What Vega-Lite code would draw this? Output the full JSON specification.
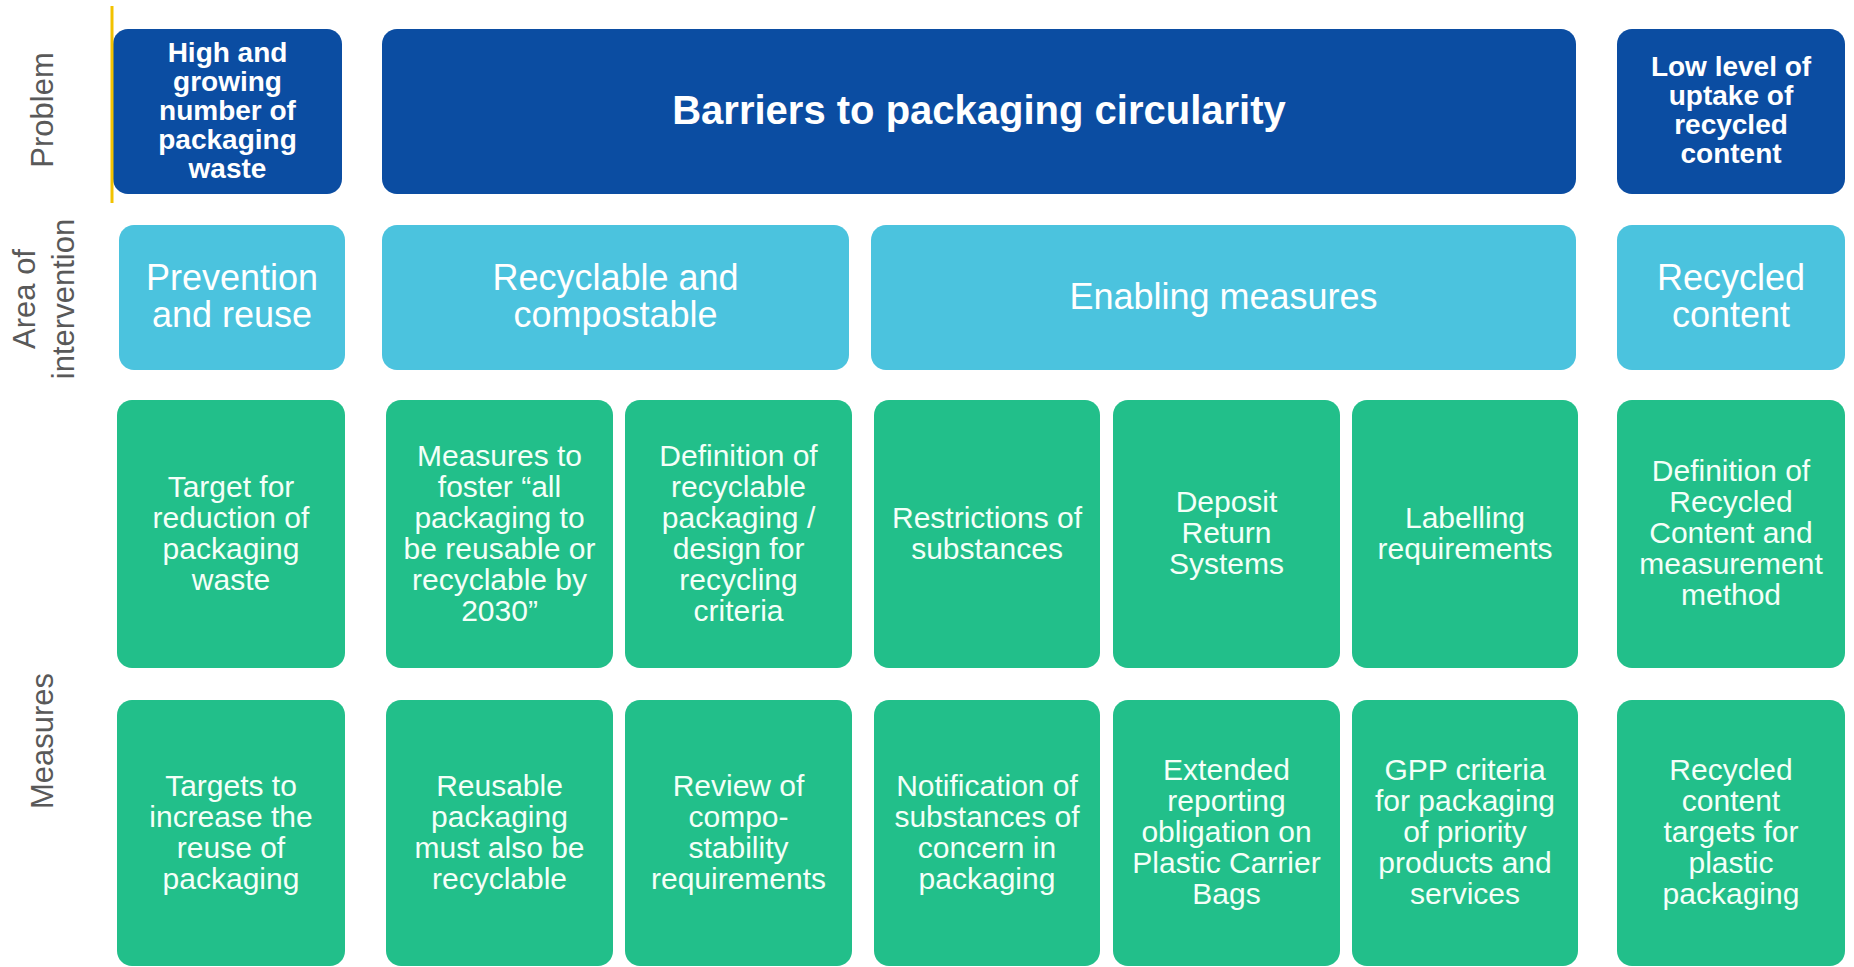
{
  "$schema": "https://vega.github.io/schema/vega-lite/v6.json",
  "width": 1854,
  "height": 967,
  "autosize": {"type": "fit", "contains": "padding"},
  "padding": 0,
  "background": "#ffffff",
  "config": {"view": {"stroke": null}, "font": "Liberation Sans"},
  "datasets": {
    "boxes": [
      {"id": 1, "kind": "problem", "label": "High and\ngrowing\nnumber of\npackaging\nwaste", "x0": 113, "x1": 342, "y0": 29, "y1": 194},
      {"id": 2, "kind": "title", "label": "Barriers to packaging circularity", "x0": 382, "x1": 1576, "y0": 29, "y1": 194},
      {"id": 3, "kind": "problem", "label": "Low level of\nuptake of\nrecycled\ncontent", "x0": 1617, "x1": 1845, "y0": 29, "y1": 194},
      {"id": 4, "kind": "area", "label": "Prevention\nand reuse", "x0": 119, "x1": 345, "y0": 225, "y1": 370},
      {"id": 5, "kind": "area", "label": "Recyclable and\ncompostable", "x0": 382, "x1": 849, "y0": 225, "y1": 370},
      {"id": 6, "kind": "area", "label": "Enabling measures", "x0": 871, "x1": 1576, "y0": 225, "y1": 370},
      {"id": 7, "kind": "area", "label": "Recycled\ncontent", "x0": 1617, "x1": 1845, "y0": 225, "y1": 370},
      {"id": 8, "kind": "measure", "label": "Target for\nreduction of\npackaging\nwaste", "x0": 117, "x1": 345, "y0": 400, "y1": 668},
      {"id": 9, "kind": "measure", "label": "Measures to\nfoster “all\npackaging to\nbe reusable or\nrecyclable by\n2030”", "x0": 386, "x1": 613, "y0": 400, "y1": 668},
      {"id": 10, "kind": "measure", "label": "Definition of\nrecyclable\npackaging /\ndesign for\nrecycling\ncriteria", "x0": 625, "x1": 852, "y0": 400, "y1": 668},
      {"id": 11, "kind": "measure", "label": "Restrictions of\nsubstances", "x0": 874, "x1": 1100, "y0": 400, "y1": 668},
      {"id": 12, "kind": "measure", "label": "Deposit\nReturn\nSystems", "x0": 1113, "x1": 1340, "y0": 400, "y1": 668},
      {"id": 13, "kind": "measure", "label": "Labelling\nrequirements", "x0": 1352, "x1": 1578, "y0": 400, "y1": 668},
      {"id": 14, "kind": "measure", "label": "Definition of\nRecycled\nContent and\nmeasurement\nmethod", "x0": 1617, "x1": 1845, "y0": 400, "y1": 668},
      {"id": 15, "kind": "measure", "label": "Targets to\nincrease the\nreuse of\npackaging", "x0": 117, "x1": 345, "y0": 700, "y1": 966},
      {"id": 16, "kind": "measure", "label": "Reusable\npackaging\nmust also be\nrecyclable", "x0": 386, "x1": 613, "y0": 700, "y1": 966},
      {"id": 17, "kind": "measure", "label": "Review of\ncompo-\nstability\nrequirements", "x0": 625, "x1": 852, "y0": 700, "y1": 966},
      {"id": 18, "kind": "measure", "label": "Notification of\nsubstances of\nconcern in\npackaging", "x0": 874, "x1": 1100, "y0": 700, "y1": 966},
      {"id": 19, "kind": "measure", "label": "Extended\nreporting\nobligation on\nPlastic Carrier\nBags", "x0": 1113, "x1": 1340, "y0": 700, "y1": 966},
      {"id": 20, "kind": "measure", "label": "GPP criteria\nfor packaging\nof priority\nproducts and\nservices", "x0": 1352, "x1": 1578, "y0": 700, "y1": 966},
      {"id": 21, "kind": "measure", "label": "Recycled\ncontent\ntargets for\nplastic\npackaging", "x0": 1617, "x1": 1845, "y0": 700, "y1": 966}
    ],
    "sides": [
      {"label": "Problem", "x": 44, "y": 110},
      {"label": "Area of\nintervention", "x": 26, "y": 299},
      {"label": "Measures", "x": 44, "y": 741}
    ],
    "divider": [
      {"x": 112, "y0": 6, "y1": 203}
    ]
  },
  "layer": [
    {
      "data": {"name": "boxes"},
      "mark": {"type": "rect", "cornerRadius": 15},
      "encoding": {
        "x": {"field": "x0", "type": "quantitative", "scale": {"domain": [0, 1854], "nice": false, "zero": false}, "axis": null},
        "x2": {"field": "x1"},
        "y": {"field": "y0", "type": "quantitative", "scale": {"domain": [0, 967], "nice": false, "zero": false, "reverse": true}, "axis": null},
        "y2": {"field": "y1"},
        "color": {"field": "kind", "type": "nominal", "scale": {"domain": ["problem", "title", "area", "measure"], "range": ["#0b4da2", "#0b4da2", "#4bc3de", "#22bf8a"]}, "legend": null}
      }
    },
    {
      "data": {"name": "divider"},
      "mark": {"type": "rule", "color": "#f2c200", "strokeWidth": 3},
      "encoding": {
        "x": {"field": "x", "type": "quantitative"},
        "y": {"field": "y0", "type": "quantitative"},
        "y2": {"field": "y1"}
      }
    },
    {
      "data": {"name": "boxes"},
      "transform": [
        {"filter": "datum.kind === 'problem' && split(datum.label, '\\n').length === 5"},
        {"fold": ["x0", "x1"], "as": ["kx", "vx"]},
        {"fold": ["y0", "y1"], "as": ["ky", "vy"]},
        {"aggregate": [{"op": "mean", "field": "vx", "as": "xc"}, {"op": "mean", "field": "vy", "as": "yc"}], "groupby": ["id", "label"]}
      ],
      "mark": {"type": "text", "font": "Liberation Sans", "fontWeight": "bold", "fontSize": 28, "lineHeight": 29, "dy": -58, "color": "#ffffff", "align": "center", "baseline": "middle", "lineBreak": "\n"},
      "encoding": {
        "x": {"field": "xc", "type": "quantitative"},
        "y": {"field": "yc", "type": "quantitative"},
        "text": {"field": "label"}
      }
    },
    {
      "data": {"name": "boxes"},
      "transform": [
        {"filter": "datum.kind === 'problem' && split(datum.label, '\\n').length === 4"},
        {"fold": ["x0", "x1"], "as": ["kx", "vx"]},
        {"fold": ["y0", "y1"], "as": ["ky", "vy"]},
        {"aggregate": [{"op": "mean", "field": "vx", "as": "xc"}, {"op": "mean", "field": "vy", "as": "yc"}], "groupby": ["id", "label"]}
      ],
      "mark": {"type": "text", "font": "Liberation Sans", "fontWeight": "bold", "fontSize": 28, "lineHeight": 29, "dy": -43.5, "color": "#ffffff", "align": "center", "baseline": "middle", "lineBreak": "\n"},
      "encoding": {
        "x": {"field": "xc", "type": "quantitative"},
        "y": {"field": "yc", "type": "quantitative"},
        "text": {"field": "label"}
      }
    },
    {
      "data": {"name": "boxes"},
      "transform": [
        {"filter": "datum.kind === 'title'"},
        {"fold": ["x0", "x1"], "as": ["kx", "vx"]},
        {"fold": ["y0", "y1"], "as": ["ky", "vy"]},
        {"aggregate": [{"op": "mean", "field": "vx", "as": "xc"}, {"op": "mean", "field": "vy", "as": "yc"}], "groupby": ["id", "label"]}
      ],
      "mark": {"type": "text", "font": "Liberation Sans", "fontWeight": "bold", "fontSize": 40, "color": "#ffffff", "align": "center", "baseline": "middle"},
      "encoding": {
        "x": {"field": "xc", "type": "quantitative"},
        "y": {"field": "yc", "type": "quantitative"},
        "text": {"field": "label"}
      }
    },
    {
      "data": {"name": "boxes"},
      "transform": [
        {"filter": "datum.kind === 'area' && split(datum.label, '\\n').length === 2"},
        {"fold": ["x0", "x1"], "as": ["kx", "vx"]},
        {"fold": ["y0", "y1"], "as": ["ky", "vy"]},
        {"aggregate": [{"op": "mean", "field": "vx", "as": "xc"}, {"op": "mean", "field": "vy", "as": "yc"}], "groupby": ["id", "label"]}
      ],
      "mark": {"type": "text", "font": "Liberation Sans", "fontSize": 36, "lineHeight": 37, "dy": -18.5, "color": "#ffffff", "align": "center", "baseline": "middle", "lineBreak": "\n"},
      "encoding": {
        "x": {"field": "xc", "type": "quantitative"},
        "y": {"field": "yc", "type": "quantitative"},
        "text": {"field": "label"}
      }
    },
    {
      "data": {"name": "boxes"},
      "transform": [
        {"filter": "datum.kind === 'area' && split(datum.label, '\\n').length === 1"},
        {"fold": ["x0", "x1"], "as": ["kx", "vx"]},
        {"fold": ["y0", "y1"], "as": ["ky", "vy"]},
        {"aggregate": [{"op": "mean", "field": "vx", "as": "xc"}, {"op": "mean", "field": "vy", "as": "yc"}], "groupby": ["id", "label"]}
      ],
      "mark": {"type": "text", "font": "Liberation Sans", "fontSize": 36, "color": "#ffffff", "align": "center", "baseline": "middle"},
      "encoding": {
        "x": {"field": "xc", "type": "quantitative"},
        "y": {"field": "yc", "type": "quantitative"},
        "text": {"field": "label"}
      }
    },
    {
      "data": {"name": "boxes"},
      "transform": [
        {"filter": "datum.kind === 'measure' && split(datum.label, '\\n').length === 2"},
        {"fold": ["x0", "x1"], "as": ["kx", "vx"]},
        {"fold": ["y0", "y1"], "as": ["ky", "vy"]},
        {"aggregate": [{"op": "mean", "field": "vx", "as": "xc"}, {"op": "mean", "field": "vy", "as": "yc"}], "groupby": ["id", "label"]}
      ],
      "mark": {"type": "text", "font": "Liberation Sans", "fontSize": 30, "lineHeight": 31, "dy": -15.5, "color": "#f4fff8", "align": "center", "baseline": "middle", "lineBreak": "\n"},
      "encoding": {
        "x": {"field": "xc", "type": "quantitative"},
        "y": {"field": "yc", "type": "quantitative"},
        "text": {"field": "label"}
      }
    },
    {
      "data": {"name": "boxes"},
      "transform": [
        {"filter": "datum.kind === 'measure' && split(datum.label, '\\n').length === 3"},
        {"fold": ["x0", "x1"], "as": ["kx", "vx"]},
        {"fold": ["y0", "y1"], "as": ["ky", "vy"]},
        {"aggregate": [{"op": "mean", "field": "vx", "as": "xc"}, {"op": "mean", "field": "vy", "as": "yc"}], "groupby": ["id", "label"]}
      ],
      "mark": {"type": "text", "font": "Liberation Sans", "fontSize": 30, "lineHeight": 31, "dy": -31, "color": "#f4fff8", "align": "center", "baseline": "middle", "lineBreak": "\n"},
      "encoding": {
        "x": {"field": "xc", "type": "quantitative"},
        "y": {"field": "yc", "type": "quantitative"},
        "text": {"field": "label"}
      }
    },
    {
      "data": {"name": "boxes"},
      "transform": [
        {"filter": "datum.kind === 'measure' && split(datum.label, '\\n').length === 4"},
        {"fold": ["x0", "x1"], "as": ["kx", "vx"]},
        {"fold": ["y0", "y1"], "as": ["ky", "vy"]},
        {"aggregate": [{"op": "mean", "field": "vx", "as": "xc"}, {"op": "mean", "field": "vy", "as": "yc"}], "groupby": ["id", "label"]}
      ],
      "mark": {"type": "text", "font": "Liberation Sans", "fontSize": 30, "lineHeight": 31, "dy": -46.5, "color": "#f4fff8", "align": "center", "baseline": "middle", "lineBreak": "\n"},
      "encoding": {
        "x": {"field": "xc", "type": "quantitative"},
        "y": {"field": "yc", "type": "quantitative"},
        "text": {"field": "label"}
      }
    },
    {
      "data": {"name": "boxes"},
      "transform": [
        {"filter": "datum.kind === 'measure' && split(datum.label, '\\n').length === 5"},
        {"fold": ["x0", "x1"], "as": ["kx", "vx"]},
        {"fold": ["y0", "y1"], "as": ["ky", "vy"]},
        {"aggregate": [{"op": "mean", "field": "vx", "as": "xc"}, {"op": "mean", "field": "vy", "as": "yc"}], "groupby": ["id", "label"]}
      ],
      "mark": {"type": "text", "font": "Liberation Sans", "fontSize": 30, "lineHeight": 31, "dy": -62, "color": "#f4fff8", "align": "center", "baseline": "middle", "lineBreak": "\n"},
      "encoding": {
        "x": {"field": "xc", "type": "quantitative"},
        "y": {"field": "yc", "type": "quantitative"},
        "text": {"field": "label"}
      }
    },
    {
      "data": {"name": "boxes"},
      "transform": [
        {"filter": "datum.kind === 'measure' && split(datum.label, '\\n').length === 6"},
        {"fold": ["x0", "x1"], "as": ["kx", "vx"]},
        {"fold": ["y0", "y1"], "as": ["ky", "vy"]},
        {"aggregate": [{"op": "mean", "field": "vx", "as": "xc"}, {"op": "mean", "field": "vy", "as": "yc"}], "groupby": ["id", "label"]}
      ],
      "mark": {"type": "text", "font": "Liberation Sans", "fontSize": 30, "lineHeight": 31, "dy": -77.5, "color": "#f4fff8", "align": "center", "baseline": "middle", "lineBreak": "\n"},
      "encoding": {
        "x": {"field": "xc", "type": "quantitative"},
        "y": {"field": "yc", "type": "quantitative"},
        "text": {"field": "label"}
      }
    },
    {
      "data": {"name": "sides"},
      "mark": {"type": "text", "font": "Liberation Sans", "fontSize": 31, "lineHeight": 39, "color": "#595959", "angle": 270, "align": "center", "baseline": "middle", "lineBreak": "\n"},
      "encoding": {
        "x": {"field": "x", "type": "quantitative"},
        "y": {"field": "y", "type": "quantitative"},
        "text": {"field": "label"}
      }
    }
  ]
}
